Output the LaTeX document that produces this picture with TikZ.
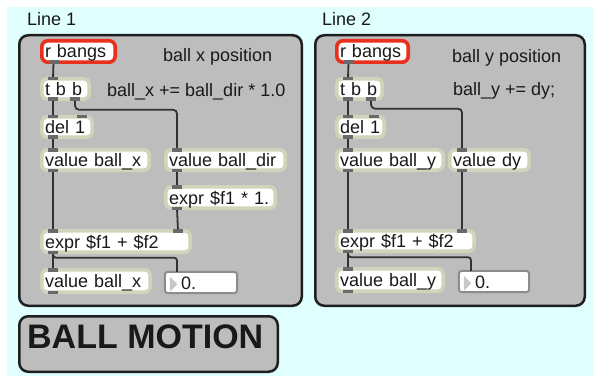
\documentclass[tikz,border=0pt]{standalone}
\usepackage{fontspec}
\setmainfont{Liberation Sans}
\definecolor{bgc}{RGB}{224,255,255}
\definecolor{panelc}{RGB}{189,189,189}
\definecolor{panelb}{RGB}{30,30,30}
\definecolor{objb}{RGB}{206,213,186}
\definecolor{redb}{RGB}{232,48,28}
\definecolor{portc}{RGB}{105,105,105}
\definecolor{wirec}{RGB}{50,50,50}
\definecolor{numb}{RGB}{140,140,140}
\definecolor{tric}{RGB}{200,200,200}
\definecolor{txt}{RGB}{25,25,25}
\newcommand\mobj[7][obj]{%
  \pgfmathsetmacro\mw{#5-#3-3.6}\pgfmathsetmacro\mh{#6-#4-3.6}\pgfmathsetmacro\tw{#5-#3-10}%
  \node[#1, anchor=north west, minimum width=\mw pt, minimum height=\mh pt, text width=\tw pt] (#2) at ({#3+1.8},{#4+1.8}) {#7};}
\newcommand\pin[2]{\pgfmathsetmacro\pk{#2-6.8}\fill[port] ([xshift=\pk pt, yshift=1.8pt]#1.north west) rectangle ++(10,3.5);}
\newcommand\pout[2]{\pgfmathsetmacro\pk{#2-6.8}\fill[port] ([xshift=\pk pt, yshift=-1.8pt]#1.south west) rectangle ++(10,-3.5);}
\newcommand\wirev[4]{\pgfmathsetmacro\pa{#2-1.8}\pgfmathsetmacro\pb{#4-1.8}\draw[wire] ([xshift=\pa pt]#1.south west) -- ([xshift=\pb pt]#3.north west);}
\begin{document}
\begin{tikzpicture}[x=1pt,y=-1pt,
  obj/.style={draw=objb, line width=3.6pt, fill=white, rounded corners=5pt, inner xsep=3.2pt, inner ysep=0pt, outer sep=0pt, align=left, text height=13pt, text depth=0pt, font=\fontsize{18}{20}\selectfont, text=txt},
  rbox/.style={obj, draw=redb, line width=3.6pt, rounded corners=6pt},
  numbox/.style={obj, draw=numb, line width=2pt, rounded corners=3pt},
  panel/.style={draw=panelb, fill=panelc, line width=2.5pt, rounded corners=9pt},
  port/.style={fill=portc},
  wire/.style={draw=wirec, line width=1.8pt},
  cmt/.style={anchor=base west, inner sep=0pt, font=\fontsize{18}{20}\selectfont, text=txt},
  tri/.style={fill=tric}]
\useasboundingbox (0,0) rectangle (594,377);
\fill[white] (0,0) rectangle (594,377);
\fill[bgc] (7,7) rectangle (594,376);
% panels
\draw[panel] (19.25,35.25) rectangle (301.75,305.75);
\draw[panel] (315.25,35.25) rectangle (584.75,305.75);
\node[cmt] (line1) at (27,26) {Line 1};
\node[cmt] (line2) at (322,26) {Line 2};
% title box
\draw[panel] (19.25,316.25) rectangle (277.75,371.75);
\node[anchor=base west, inner sep=0pt, font=\fontsize{34}{36}\selectfont\bfseries, text=txt] (title) at (27,348) {BALL MOTION};
% comments
\node[cmt] (c1) at (163,62) {ball x position};
\node[cmt] (c2) at (107,97) {ball\_x += ball\_dir * 1.0};
\node[cmt] (c3) at (452,62.5) {ball y position};
\node[cmt] (c4) at (453,96) {ball\_y += dy;};
% panel 1 objects
\mobj[rbox]{rb1}{40}{39}{117}{64}{r bangs}
\mobj{tbb1}{40}{77}{91}{101}{t b b}
\mobj{del1}{40}{115}{94}{139}{del 1}
\mobj{vx1}{40}{148}{151}{172}{value ball\_x}
\mobj{vdir}{164}{148}{287}{172}{value ball\_dir}
\mobj{mul}{164}{185}{277}{210}{expr \$f1 * 1.}
\mobj{add1}{40}{229}{192}{254}{expr \$f1 + \$f2}
\mobj{vx2}{40}{268}{152}{294}{value ball\_x}
\mobj[numbox]{num1}{163}{270}{239}{295}{\hspace*{13pt}0.}
% panel 2 objects
\mobj[rbox]{rb2}{335}{39}{410}{64}{r bangs}
\mobj{tbb2}{335}{77}{384}{101}{t b b}
\mobj{del2}{335}{115}{386}{139}{del 1}
\mobj{vy1}{335}{148}{445}{172}{value ball\_y}
\mobj{vdy}{448}{148}{531}{172}{value dy}
\mobj{add2}{335}{229}{476}{253}{expr \$f1 + \$f2}
\mobj{vy2}{335}{267}{445}{293}{value ball\_y}
\mobj[numbox]{num2}{457}{269}{531}{294}{\hspace*{13pt}0.}
% triangles in number boxes
\fill[tri] ([xshift=5pt, yshift=-5pt]num1.north west) -- ++(0,15) -- ++(7.5,-7.5) -- cycle;
\fill[tri] ([xshift=5pt, yshift=-5pt]num2.north west) -- ++(0,15) -- ++(7.5,-7.5) -- cycle;
% wires panel 1
\wirev{rb1}{13.5}{tbb1}{13}
\wirev{tbb1}{13}{del1}{13}
\draw[wire, rounded corners=4pt] ([xshift=33.2pt]tbb1.south west) -- ++(0,10.5) -| ([xshift=11.2pt]vdir.north west);
\wirev{del1}{13}{vx1}{13}
\wirev{vx1}{13}{add1}{13}
\wirev{vdir}{13}{mul}{13}
\wirev{mul}{13}{add1}{138}
\wirev{add1}{13}{vx2}{13}
\draw[wire, rounded corners=3pt] ([xshift=11.2pt]add1.south west) -- ++(0,5.5) -| ([xshift=12.2pt]num1.north west);
% wires panel 2
\wirev{rb2}{13.5}{tbb2}{13}
\wirev{tbb2}{13}{del2}{13}
\draw[wire, rounded corners=4pt] ([xshift=34.2pt]tbb2.south west) -- ++(0,9.5) -| ([xshift=12.2pt]vdy.north west);
\wirev{del2}{13}{vy1}{13}
\wirev{vy1}{13}{add2}{13}
\wirev{vdy}{14}{add2}{127}
\wirev{add2}{13}{vy2}{13}
\draw[wire, rounded corners=3pt] ([xshift=11.2pt]add2.south west) -- ++(0,6) -| ([xshift=12.2pt]num2.north west);
% ports panel 1
\pout{rb1}{13.5}
\pin{tbb1}{13}\pout{tbb1}{13}\pout{tbb1}{35}
\pin{del1}{13}\pin{del1}{42}\pout{del1}{13}
\pin{vx1}{13}\pout{vx1}{13}
\pin{vdir}{13}\pout{vdir}{13}
\pin{mul}{13}\pout{mul}{13}
\pin{add1}{13}\pin{add1}{138}\pout{add1}{13}
\pin{vx2}{13}\pout{vx2}{13}
% ports panel 2
\pout{rb2}{13.5}
\pin{tbb2}{13}\pout{tbb2}{13}\pout{tbb2}{36}
\pin{del2}{13}\pin{del2}{39}\pout{del2}{13}
\pin{vy1}{13}\pout{vy1}{13}
\pin{vdy}{14}\pout{vdy}{14}
\pin{add2}{13}\pin{add2}{127}\pout{add2}{13}
\pin{vy2}{13}\pout{vy2}{13}
\end{tikzpicture}
\end{document}
